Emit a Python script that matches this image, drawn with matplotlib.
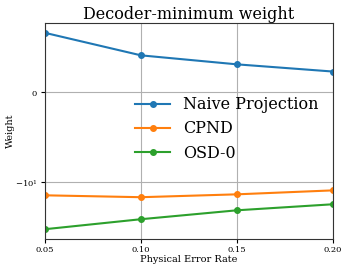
import numpy as np
import matplotlib
matplotlib.use("Agg")
import matplotlib.pyplot as plt

plt.rcParams['font.family'] = 'DejaVu Serif'

# physical error rates
p = [0.05, 0.10, 0.15, 0.20]

# minimum weight per decoder
naive = [6.6, 4.1, 3.1, 2.3]
cpnd = [-14.5, -15.3, -14.1, -12.6]
osd0 = [-38.0, -28.6, -22.2, -18.7]

fig = plt.figure(figsize=(3.49, 2.71), dpi=100)
ax = fig.add_axes([0.129, 0.118, 0.825, 0.797])

ax.plot(p, naive, marker='o', markersize=4, label="Naive Projection")
ax.plot(p, cpnd, marker='o', markersize=4, label="CPND")
ax.plot(p, osd0, marker='o', markersize=4, label="OSD-0")

ax.set_yscale('symlog', linthresh=10)
ax.set_xlim(0.05, 0.20)
ax.set_xticks(p)
ax.tick_params(labelsize=6, length=3, pad=2)
ax.grid(True)
for s in ax.spines.values():
    s.set_color('#333333')

ax.set_title("Decoder-minimum weight", fontsize=11.5, pad=3)
ax.set_xlabel("Physical Error Rate", fontsize=7, labelpad=1)
ax.set_ylabel("Weight", fontsize=7, labelpad=0)
ax.legend(loc='center right', frameon=False, fontsize=11.5,
          handlelength=2.2, labelspacing=0.45,
          bbox_to_anchor=(1.0, 0.51))

fig.savefig("out.png", dpi=100)
